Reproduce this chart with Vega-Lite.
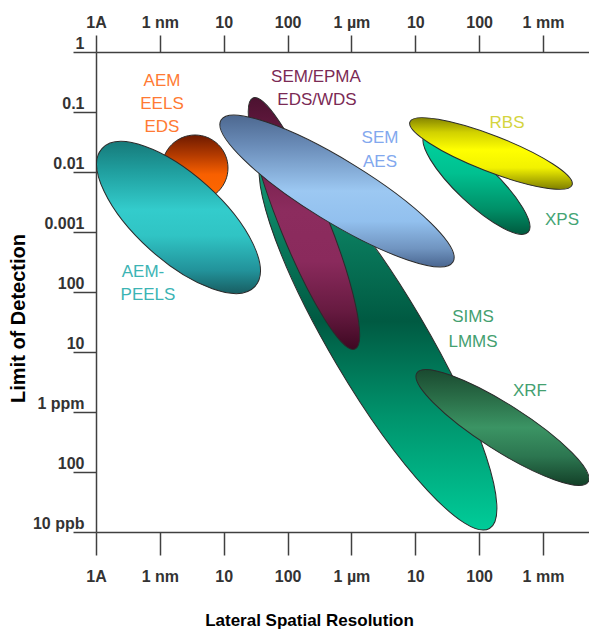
{
  "$schema": "https://vega.github.io/schema/vega-lite/v6.json",
  "width": 493,
  "height": 480,
  "autosize": {"type": "none"},
  "padding": {"left": 96, "top": 52, "right": 0, "bottom": 100},
  "background": "white",
  "config": {"view": {"stroke": null}, "font": "Liberation Sans"},
  "datasets": {
    "regions": [
      {"technique": "AEM/EELS/EDS", "res": 35.5, "lod": 0.01166},
      {"technique": "AEM-PEELS", "res": 19.6, "lod": 0.001745},
      {"technique": "SIMS/LMMS", "res": 26060, "lod": 1.585e-5},
      {"technique": "SEM/EPMA", "res": 1807, "lod": 0.001386},
      {"technique": "SEM/AES", "res": 5943, "lod": 0.004822},
      {"technique": "XPS", "res": 908000, "lod": 0.00643},
      {"technique": "RBS", "res": 1532000, "lod": 0.02034},
      {"technique": "XRF", "res": 2320000, "lod": 5.52e-7}
    ],
    "labels": [
      {"text": "AEM", "group": "AEM/EELS/EDS", "res": 10.8, "lod": 0.3286},
      {"text": "EELS", "group": "AEM/EELS/EDS", "res": 10.8, "lod": 0.1359},
      {"text": "EDS", "group": "AEM/EELS/EDS", "res": 10.8, "lod": 0.05623},
      {"text": "SEM/EPMA", "group": "SEM/EPMA", "res": 2786, "lod": 0.3831},
      {"text": "EDS/WDS", "group": "SEM/EPMA", "res": 2890, "lod": 0.1585},
      {"text": "SEM", "group": "SEM/AES", "res": 28000, "lod": 0.03686},
      {"text": "AES", "group": "SEM/AES", "res": 28000, "lod": 0.01468},
      {"text": "RBS", "group": "RBS", "res": 2729000, "lod": 0.06556},
      {"text": "XPS", "group": "XPS", "res": 19820000, "lod": 0.001585},
      {"text": "SIMS", "group": "SIMS/LMMS", "res": 801300, "lod": 3.831e-5},
      {"text": "LMMS", "group": "SIMS/LMMS", "res": 801300, "lod": 1.468e-5},
      {"text": "XRF", "group": "XRF", "res": 6252000, "lod": 2.239e-6},
      {"text": "AEM-", "group": "AEM-PEELS", "res": 5.445, "lod": 2.154e-4},
      {"text": "PEELS", "group": "AEM-PEELS", "res": 6.52, "lod": 8.913e-5}
    ]
  },
  "encoding": {
    "x": {"field": "res", "type": "quantitative", "scale": {"type": "log", "domain": [1, 52500000], "nice": false}, "axis": null},
    "y": {"field": "lod", "type": "quantitative", "scale": {"type": "log", "domain": [1e-8, 1], "nice": false}, "axis": null}
  },
  "resolve": {"axis": {"x": "independent", "y": "independent"}},
  "layer": [
    {
      "data": {"name": "regions"},
      "transform": [{"filter": "datum.technique === 'AEM/EELS/EDS'"}],
      "mark": {"type": "point", "shape": "M-1,0C-1,-0.5523,-0.5523,-1,0,-1C0.5523,-1,1,-0.5523,1,0C1,0.5523,0.5523,1,0,1C-0.5523,1,-1,0.5523,-1,0Z", "size": 4356, "angle": 0, "filled": true, "opacity": 1,
        "fill": {"gradient": "linear", "x1": 0.5, "y1": 0, "x2": 0.5, "y2": 1, "stops": [{"offset": 0, "color": "#6e1a00"}, {"offset": 0.3, "color": "#b23a00"}, {"offset": 0.6, "color": "#f86000"}, {"offset": 1, "color": "#ff6a00"}]},
        "stroke": "#2b2b2b", "strokeWidth": 1},
      "encoding": {
        "x": {"field": "res", "type": "quantitative", "scale": {"type": "log", "domain": [1, 52500000], "nice": false},
          "axis": {"orient": "bottom", "values": [1, 10, 100, 1000, 10000, 100000, 1000000, 10000000],
            "labelExpr": "['1A','1 nm','10','100','1 µm','10','100','1 mm'][round(log(datum.value)/LN10)]",
            "grid": false, "tickSize": 23, "tickColor": "#404040", "tickWidth": 1.5, "domainColor": "#404040", "domainWidth": 1.5,
            "labelFont": "Liberation Sans", "labelFontSize": 16, "labelFontWeight": "bold", "labelColor": "#333333", "labelPadding": 13,
            "labelFlush": false, "labelOverlap": false,
            "title": "Lateral Spatial Resolution", "titleFont": "Liberation Sans", "titleFontSize": 17, "titleFontWeight": "bold", "titleColor": "#000000",
            "titleX": 213, "titleY": 88, "titleAlign": "center", "titleBaseline": "middle"}},
        "y": {"field": "lod", "type": "quantitative", "scale": {"type": "log", "domain": [1e-8, 1], "nice": false},
          "axis": {"orient": "left", "values": [1, 0.1, 0.01, 0.001, 0.0001, 0.00001, 0.000001, 1e-7, 1e-8],
            "labelExpr": "['1','0.1','0.01','0.001','100','10','1 ppm','100','10 ppb'][-round(log(datum.value)/LN10)]",
            "grid": false, "tickSize": 23, "tickColor": "#404040", "tickWidth": 1.5, "domainColor": "#404040", "domainWidth": 1.5,
            "labelFont": "Liberation Sans", "labelFontSize": 16, "labelFontWeight": "bold", "labelColor": "#333333", "labelPadding": -11,
            "labelOffset": -9, "labelBaseline": "middle", "labelFlush": false, "labelOverlap": false,
            "title": "Limit of Detection", "titleFont": "Liberation Sans", "titleFontSize": 20, "titleFontWeight": "bold", "titleColor": "#000000",
            "titleX": -78, "titleY": 266, "titleAngle": -90, "titleAlign": "center", "titleBaseline": "middle"}}
      }
    },
    {
      "data": {"name": "regions"},
      "transform": [{"filter": "datum.technique === 'AEM-PEELS'"}],
      "mark": {"type": "point", "shape": "M-1,0C-1,-0.2303,-0.5523,-0.417,0,-0.417C0.5523,-0.417,1,-0.2303,1,0C1,0.2303,0.5523,0.417,0,0.417C-0.5523,0.417,-1,0.2303,-1,0Z", "size": 42436, "angle": 42, "filled": true, "opacity": 1,
        "fill": {"gradient": "linear", "x1": 0.046, "y1": 0.29, "x2": 0.954, "y2": 0.71, "stops": [{"offset": 0, "color": "#167a7a"}, {"offset": 0.18, "color": "#1f9c9c"}, {"offset": 0.45, "color": "#33cccc"}, {"offset": 0.62, "color": "#30c4c4"}, {"offset": 0.85, "color": "#22929a"}, {"offset": 1, "color": "#185e62"}]},
        "stroke": "#2b2b2b", "strokeWidth": 1}
    },
    {
      "data": {"name": "regions"},
      "transform": [{"filter": "datum.technique === 'SIMS/LMMS'"}],
      "mark": {"type": "point", "shape": "M-1,0C-1,-0.121,-0.5523,-0.219,0,-0.219C0.5523,-0.219,1,-0.121,1,0C1,0.121,0.5523,0.219,0,0.219C-0.5523,0.219,-1,0.121,-1,0Z", "size": 191844, "angle": 59.4, "filled": true, "opacity": 1,
        "fill": {"gradient": "linear", "x1": 0.004, "y1": 0.436, "x2": 0.996, "y2": 0.564, "stops": [{"offset": 0, "color": "#17a07c"}, {"offset": 0.22, "color": "#0a7c5e"}, {"offset": 0.45, "color": "#005a42"}, {"offset": 0.7, "color": "#00936c"}, {"offset": 1, "color": "#00cc99"}]},
        "stroke": "#2b2b2b", "strokeWidth": 1}
    },
    {
      "data": {"name": "regions"},
      "transform": [{"filter": "datum.technique === 'SEM/EPMA'"}],
      "mark": {"type": "point", "shape": "M-1,0C-1,-0.0978,-0.5523,-0.177,0,-0.177C0.5523,-0.177,1,-0.0978,1,0C1,0.0978,0.5523,0.177,0,0.177C-0.5523,0.177,-1,0.0978,-1,0Z", "size": 73441, "angle": 67.9, "filled": true, "opacity": 1,
        "fill": {"gradient": "linear", "x1": 0.001, "y1": 0.464, "x2": 0.999, "y2": 0.536, "stops": [{"offset": 0, "color": "#4c1230"}, {"offset": 0.2, "color": "#6e1c46"}, {"offset": 0.45, "color": "#8c2c5e"}, {"offset": 0.65, "color": "#8a2a5c"}, {"offset": 0.85, "color": "#661a40"}, {"offset": 1, "color": "#3e0822"}]},
        "stroke": "#2b2b2b", "strokeWidth": 1}
    },
    {
      "data": {"name": "regions"},
      "transform": [{"filter": "datum.technique === 'SEM/AES'"}],
      "mark": {"type": "point", "shape": "M-1,0C-1,-0.1259,-0.5523,-0.228,0,-0.228C0.5523,-0.228,1,-0.1259,1,0C1,0.1259,0.5523,0.228,0,0.228C-0.5523,0.228,-1,0.1259,-1,0Z", "size": 73984, "angle": 31.5, "filled": true, "opacity": 1,
        "fill": {"gradient": "linear", "x1": 0.031, "y1": 0.326, "x2": 0.969, "y2": 0.674, "stops": [{"offset": 0, "color": "#4d6890"}, {"offset": 0.2, "color": "#6a8cb8"}, {"offset": 0.5, "color": "#9cc8f2"}, {"offset": 0.7, "color": "#92c0ee"}, {"offset": 0.88, "color": "#7094c0"}, {"offset": 1, "color": "#4a6690"}]},
        "stroke": "#2b2b2b", "strokeWidth": 1}
    },
    {
      "data": {"name": "regions"},
      "transform": [{"filter": "datum.technique === 'XPS'"}],
      "mark": {"type": "point", "shape": "M-1,0C-1,-0.1557,-0.5523,-0.282,0,-0.282C0.5523,-0.282,1,-0.1557,1,0C1,0.1557,0.5523,0.282,0,0.282C-0.5523,0.282,-1,0.1557,-1,0Z", "size": 20164, "angle": 43.3, "filled": true, "opacity": 1,
        "fill": {"gradient": "linear", "x1": 0.021, "y1": 0.356, "x2": 0.979, "y2": 0.644, "stops": [{"offset": 0, "color": "#00d4a0"}, {"offset": 0.4, "color": "#00c090"}, {"offset": 0.75, "color": "#009068"}, {"offset": 1, "color": "#005a3e"}]},
        "stroke": "#2b2b2b", "strokeWidth": 1}
    },
    {
      "data": {"name": "regions"},
      "transform": [{"filter": "datum.technique === 'RBS'"}],
      "mark": {"type": "point", "shape": "M-1,0C-1,-0.1143,-0.5523,-0.207,0,-0.207C0.5523,-0.207,1,-0.1143,1,0C1,0.1143,0.5523,0.207,0,0.207C-0.5523,0.207,-1,0.1143,-1,0Z", "size": 30276, "angle": 21.3, "filled": true, "opacity": 1,
        "fill": {"gradient": "linear", "x1": 0.059, "y1": 0.266, "x2": 0.941, "y2": 0.734, "stops": [{"offset": 0, "color": "#858500"}, {"offset": 0.2, "color": "#d0d000"}, {"offset": 0.45, "color": "#ffff00"}, {"offset": 0.7, "color": "#f2f200"}, {"offset": 1, "color": "#808000"}]},
        "stroke": "#2b2b2b", "strokeWidth": 1}
    },
    {
      "data": {"name": "regions"},
      "transform": [{"filter": "datum.technique === 'XRF'"}],
      "mark": {"type": "point", "shape": "M-1,0C-1,-0.1254,-0.5523,-0.227,0,-0.227C0.5523,-0.227,1,-0.1254,1,0C1,0.1254,0.5523,0.227,0,0.227C-0.5523,0.227,-1,0.1254,-1,0Z", "size": 41209, "angle": 32.5, "filled": true, "opacity": 1,
        "fill": {"gradient": "linear", "x1": 0.029, "y1": 0.332, "x2": 0.971, "y2": 0.668, "stops": [{"offset": 0, "color": "#1a4a30"}, {"offset": 0.25, "color": "#2a6e48"}, {"offset": 0.5, "color": "#3b9464"}, {"offset": 0.75, "color": "#2c7650"}, {"offset": 1, "color": "#134028"}]},
        "stroke": "#2b2b2b", "strokeWidth": 1}
    },
    {
      "data": {"name": "labels"},
      "mark": {"type": "text", "font": "Liberation Sans", "fontSize": 17, "align": "center", "baseline": "middle"},
      "encoding": {
        "x": {"field": "res", "type": "quantitative", "scale": {"type": "log", "domain": [1, 52500000], "nice": false},
          "axis": {"orient": "top", "values": [1, 10, 100, 1000, 10000, 100000, 1000000, 10000000],
            "labelExpr": "['1A','1 nm','10','100','1 µm','10','100','1 mm'][round(log(datum.value)/LN10)]",
            "grid": false, "tickSize": 17, "tickColor": "#404040", "tickWidth": 1.5, "domainColor": "#404040", "domainWidth": 1.5,
            "labelFont": "Liberation Sans", "labelFontSize": 16, "labelFontWeight": "bold", "labelColor": "#333333", "labelPadding": 5,
            "labelFlush": false, "labelOverlap": false, "title": null}},
        "text": {"field": "text", "type": "nominal"},
        "color": {"field": "group", "type": "nominal", "legend": null,
          "scale": {"domain": ["AEM/EELS/EDS", "SEM/EPMA", "SEM/AES", "RBS", "XPS", "SIMS/LMMS", "XRF", "AEM-PEELS"],
            "range": ["#ff7a33", "#7b2a55", "#82a8ee", "#d4d43e", "#44a474", "#44a070", "#44a070", "#3cb4b4"]}}
      }
    }
  ]
}
